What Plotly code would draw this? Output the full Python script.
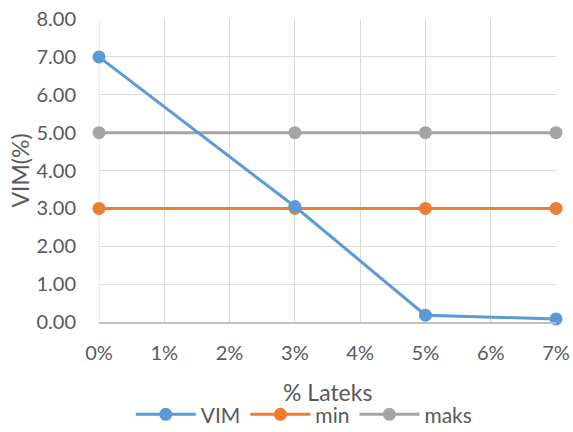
import plotly.graph_objects as go

x_vals = [0, 3, 5, 7]
vim = [7.00, 3.05, 0.18, 0.08]
min_vals = [3.00, 3.00, 3.00, 3.00]
maks_vals = [5.00, 5.00, 5.00, 5.00]
x_ticks = [0, 1, 2, 3, 4, 5, 6, 7]
x_tick_labels = ["0%", "1%", "2%", "3%", "4%", "5%", "6%", "7%"]
y_ticks = [0, 1, 2, 3, 4, 5, 6, 7, 8]
x_title = "% Lateks"
y_title = "VIM(%)"

font_family = "Lato, Open Sans, sans-serif"
text_color = "#595959"

fig = go.Figure()
series = [
    ("maks", maks_vals, "#A5A5A5"),
    ("min", min_vals, "#ED7D31"),
    ("VIM", vim, "#5B9BD5"),
]
for name, vals, color in series:
    fig.add_trace(go.Scatter(
        x=x_vals, y=vals, name=name, mode="lines+markers",
        line=dict(color=color, width=3),
        marker=dict(color=color, size=13),
        cliponaxis=False,
    ))

fig.update_layout(
    width=573, height=432,
    margin=dict(l=99, r=17, t=19, b=110),
    paper_bgcolor="white", plot_bgcolor="white",
    font=dict(family=font_family, size=20, color=text_color),
    showlegend=True,
    legend=dict(orientation="h", xref="container", yref="container",
                x=0.531, xanchor="center", y=0.04, yanchor="middle",
                traceorder="reversed", font=dict(size=21, color=text_color),
                itemwidth=60, bgcolor="rgba(0,0,0,0)"),
    xaxis=dict(
        range=[0, 7], tickmode="array", tickvals=x_ticks, ticktext=x_tick_labels,
        showgrid=True, gridcolor="#D9D9D9", gridwidth=1,
        showline=True, linecolor="#BFBFBF", linewidth=1.5,
        zeroline=False, ticks="outside", ticklen=12, tickcolor="rgba(0,0,0,0)",
        automargin=False,
    ),
    yaxis=dict(
        range=[0, 8], tickmode="array", tickvals=y_ticks,
        tickformat=".2f",
        showgrid=True, gridcolor="#D9D9D9", gridwidth=1,
        showline=False, zeroline=False, ticks="outside", ticklen=18,
        tickcolor="rgba(0,0,0,0)", automargin=False,
        title=dict(text=y_title, font=dict(size=23, color=text_color), standoff=0),
    ),
)
fig.add_annotation(text=x_title, xref="paper", yref="paper", x=0.5, y=-0.231,
                   xanchor="center", yanchor="middle", showarrow=False,
                   font=dict(size=23, color=text_color))
fig.add_shape(type="line", xref="x", yref="paper", x0=0, x1=0, y0=0, y1=1,
              line=dict(color="#D9D9D9", width=1), layer="below")

fig.write_html("out.html", config={"displayModeBar": False},
               post_script="document.body.style.margin='0px';")
